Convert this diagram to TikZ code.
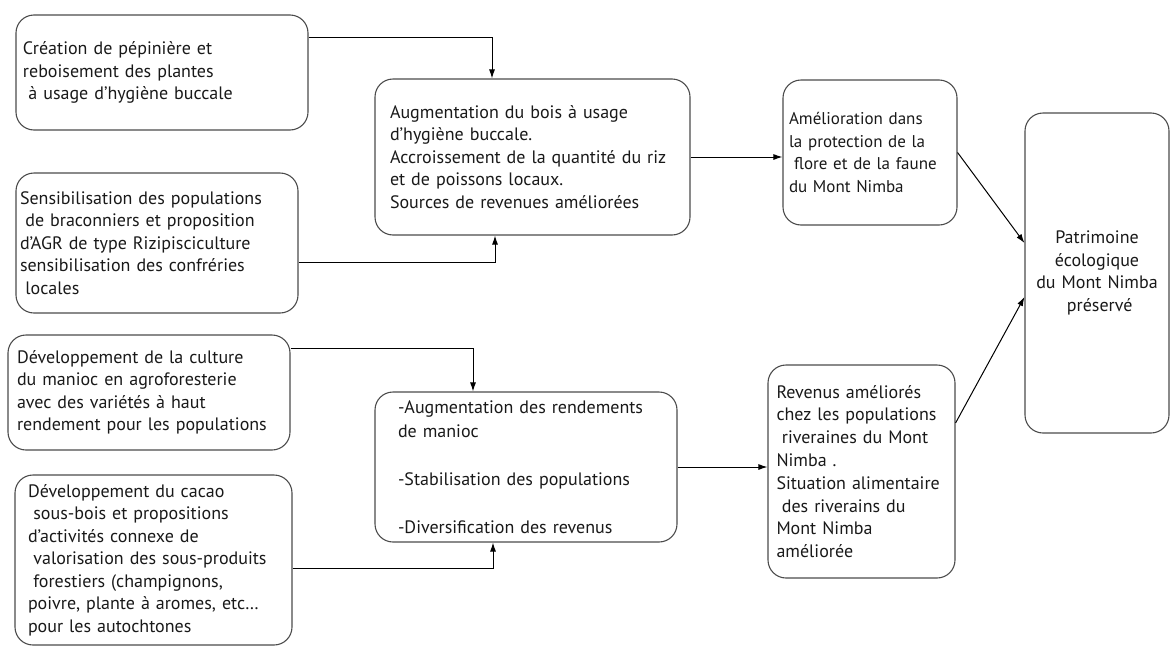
\documentclass[tikz,border=0pt]{standalone}
\usepackage{fontspec}
\setmainfont{PT Sans}
\usetikzlibrary{arrows.meta}
\newcommand{\indt}{\hspace*{0.3em}}
\tikzset{
  box/.style={draw=black!70, line width=1.1pt, rounded corners=18pt, align=left,
    font=\fontsize{18}{22.5}\selectfont, text=black!90, inner ysep=4pt},
  arr/.style={draw=black, line width=1pt, -{Latex[length=9pt,width=6pt]}}
}
\begin{document}
\begin{tikzpicture}[x=1pt,y=-1pt]
  \useasboundingbox (0,0) rectangle (1172,648);

  \node[box, minimum height=115pt, text width=278pt, inner xsep=7pt] (pepi) at (162,72.5)
    {Création de pépinière et\\reboisement des plantes\\\indt à usage d’hygiène buccale\\[8pt]};
  \node[box, minimum height=140pt, text width=274pt, inner xsep=4pt] (sensi) at (157,243)
    {Sensibilisation des populations\\\indt de braconniers et proposition\\d’AGR de type Rizipisciculture\\sensibilisation des confréries\\\indt locales};
  \node[box, minimum height=115pt, minimum width=282pt, text width=264pt, inner xsep=2pt] (manioc) at (149,392.5)
    {Développement de la culture\\du manioc en agroforesterie\\avec des variétés à haut\\rendement pour les populations};
  \node[box, minimum height=170pt, text width=251pt, inner xsep=13pt] (cacao) at (153.5,560)
    {Développement du cacao\\\indt sous-bois et propositions\\d’activités connexe de\\\indt valorisation des sous-produits\\\indt forestiers (champignons,\\poivre, plante à aromes, etc…\\pour les autochtones};

  \node[box, minimum height=156pt, text width=285pt, inner xsep=15pt] (bois) at (532.5,157)
    {Augmentation du bois à usage\\d’hygiène buccale.\\Accroissement de la quantité du riz\\et de poissons locaux.\\Sources de revenues améliorées};
  \node[box, minimum height=150pt, text width=256pt, inner xsep=23pt, font=\fontsize{18}{24}\selectfont] (rend) at (526,467)
    {-Augmentation des rendements\\de manioc\\[24pt]-Stabilisation des populations\\[24pt]-Diversification des revenus};

  \node[box, minimum height=145pt, text width=162pt, inner xsep=6pt, font=\fontsize{17}{22.5}\selectfont] (flore) at (870,152.5)
    {Amélioration dans\\la protection de la\\\indt flore et de la faune\\du Mont Nimba\\[16pt]};
  \node[box, minimum height=213pt, text width=170pt, inner xsep=8.5pt, font=\fontsize{18}{22.8}\selectfont] (reven) at (861.5,471.5)
    {Revenus améliorés\\chez les populations\\\indt riveraines du Mont\\Nimba .\\Situation alimentaire\\\indt des riverains du\\Mont Nimba\\améliorée\\[12pt]};
  \node[box, minimum height=320pt, text width=140pt, inner xsep=2pt, align=center] (patri) at (1097,273)
    {Patrimoine\\écologique\\du Mont Nimba\\\indt préservé};

  \draw[arr] ([yshift=35.5pt]pepi.east) -| ([xshift=-40.5pt]bois.north);
  \draw[arr] ([yshift=-19pt]sensi.east) -| ([xshift=-37.5pt]bois.south);
  \draw[arr] ([yshift=44.5pt]manioc.east) -| ([xshift=-53pt]rend.north);
  \draw[arr] ([yshift=-8pt]cacao.east) -| ([xshift=-33pt]rend.south);
  \draw[arr] (bois.east) -- (bois.east -| flore.west);
  \draw[arr] (rend.east) -- (rend.east -| reven.west);
  \draw[arr] (flore.east) -- ([yshift=30pt]patri.west);
  \draw[arr] ([yshift=48.5pt]reven.east) -- ([yshift=-24pt]patri.west);
\end{tikzpicture}
\end{document}
